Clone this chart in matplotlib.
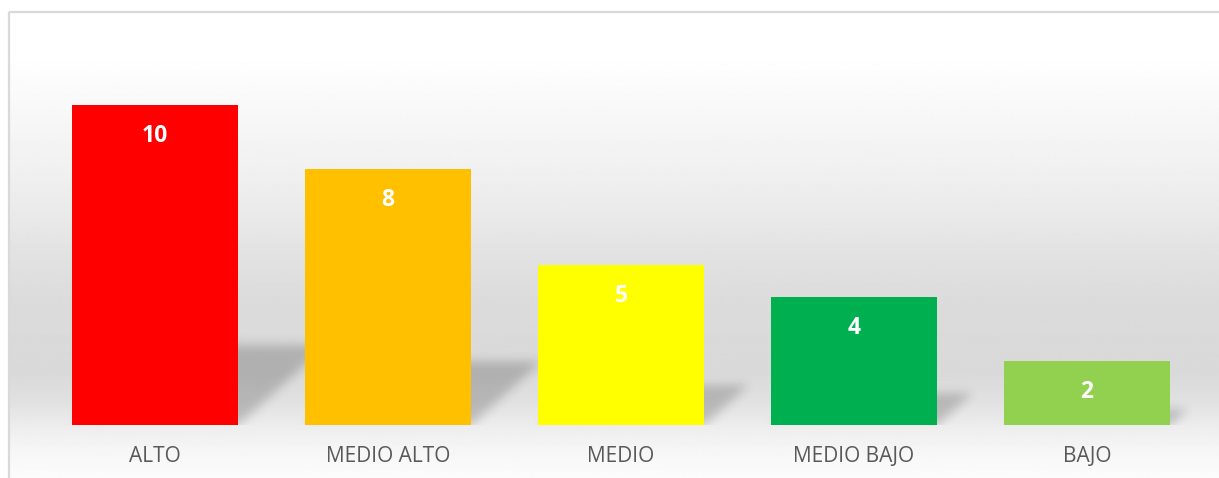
import numpy as np
import matplotlib
matplotlib.use("Agg")
import matplotlib.pyplot as plt
from matplotlib.patches import Rectangle
import matplotlib.transforms as mtransforms

categories = ["ALTO", "MEDIO ALTO", "MEDIO", "MEDIO BAJO", "BAJO"]
values = [10, 8, 5, 4, 2]
colors = ["#FF0000", "#FFC000", "#FFFF00", "#00B050", "#92D050"]

W, H, DPI = 1219, 478, 100
fig = plt.figure(figsize=(W / DPI, H / DPI), dpi=DPI)
fig.patch.set_facecolor("white")

# ---- background gradient (chart area) ----
bg = fig.add_axes([0, 0, 1, 1], zorder=0)
bg.set_xlim(0, W)
bg.set_ylim(H, 0)
bg.axis("off")
stops_y = [0, 45, 100, 150, 200, 250, 300, 370, 400, 425, 450, 478]
stops_v = [255, 255, 248, 242, 235, 226, 219, 217, 225, 237, 246, 252]
ys = np.arange(H) + 0.5
col = np.interp(ys, stops_y, stops_v) / 255.0
grad = np.repeat(col[:, None], 2, axis=1)
bg.imshow(grad, cmap="gray", vmin=0, vmax=1, aspect="auto",
          extent=[8.5, W + 1, H, 11.5], interpolation="bilinear")
bg.add_patch(Rectangle((8.5, 11.5), W + 20, H + 20, fill=False,
                       edgecolor="#d9d9d9", linewidth=1.6))

# ---- plot axes ----
ax_left, ax_right = 38.5, 1203.5
ax_bottom_px, ax_top_px = 425, 41
ax = fig.add_axes([ax_left / W, (H - ax_bottom_px) / H,
                   (ax_right - ax_left) / W, (ax_bottom_px - ax_top_px) / H],
                  zorder=1)
ax.set_facecolor("none")
ymax = 12
ax.set_xlim(-0.5, len(categories) - 0.5)
ax.set_ylim(0, ymax)
for s in ax.spines.values():
    s.set_visible(False)
ax.set_xticks([])
ax.set_yticks([])

x = np.arange(len(categories))
bw = 0.712

# ---- perspective shadows ----
nx = int(ax_right - ax_left)
ny = int(ax_bottom_px - ax_top_px)
px_per_x = nx / len(categories)
px_per_y = ny / ymax
gx = np.arange(nx) + 0.5
gy = np.arange(ny) + 0.5
GX, GY = np.meshgrid(gx, gy)
mask = np.zeros((ny, nx))
for xi, v in zip(x, values):
    h_px = v * px_per_y
    s = 0.25 * h_px
    slope = 1.1
    x0 = (xi - bw / 2 + 0.5) * px_per_x
    x1 = (xi + bw / 2 + 0.5) * px_per_x
    inside = (GY <= s) & (GX >= x0 + GY * slope) & (GX <= x1 + GY * slope)
    mask = np.maximum(mask, inside.astype(float))

def gblur(a, sigma):
    r = int(3 * sigma)
    k = np.exp(-0.5 * (np.arange(-r, r + 1) / sigma) ** 2)
    k /= k.sum()
    pad = np.pad(a, r, mode="constant")
    a1 = np.apply_along_axis(lambda m: np.convolve(m, k, mode="valid"), 1, pad)
    a2 = np.apply_along_axis(lambda m: np.convolve(m, k, mode="valid"), 0, a1)
    return a2

blur = gblur(mask, 5.0)
rgba = np.zeros((ny, nx, 4))
rgba[..., 3] = blur * 0.19
ax.imshow(rgba[::-1], extent=[-0.5, len(categories) - 0.5, 0, ymax],
          aspect="auto", zorder=1, interpolation="bilinear")

# ---- bars ----
ax.bar(x, values, width=bw, color=colors, zorder=2, linewidth=0)

val_off = mtransforms.offset_copy(ax.transData, fig=fig, x=0, y=-37.5, units="dots")
for xi, v in zip(x, values):
    ax.text(xi, v, str(v), transform=val_off, ha="center", va="baseline",
            color="white", fontsize=16.5, fontweight="bold",
            family=["Open Sans", "DejaVu Sans"], zorder=3)

cat_trans = mtransforms.offset_copy(ax.transData, fig=fig, x=0, y=-37, units="dots")
for xi, c in zip(x, categories):
    ax.text(xi, 0, c, transform=cat_trans, ha="center", va="baseline",
            color="#595959", fontsize=15,
            family=["Open Sans", "DejaVu Sans"], zorder=3)

fig.savefig("out.png", dpi=DPI)
